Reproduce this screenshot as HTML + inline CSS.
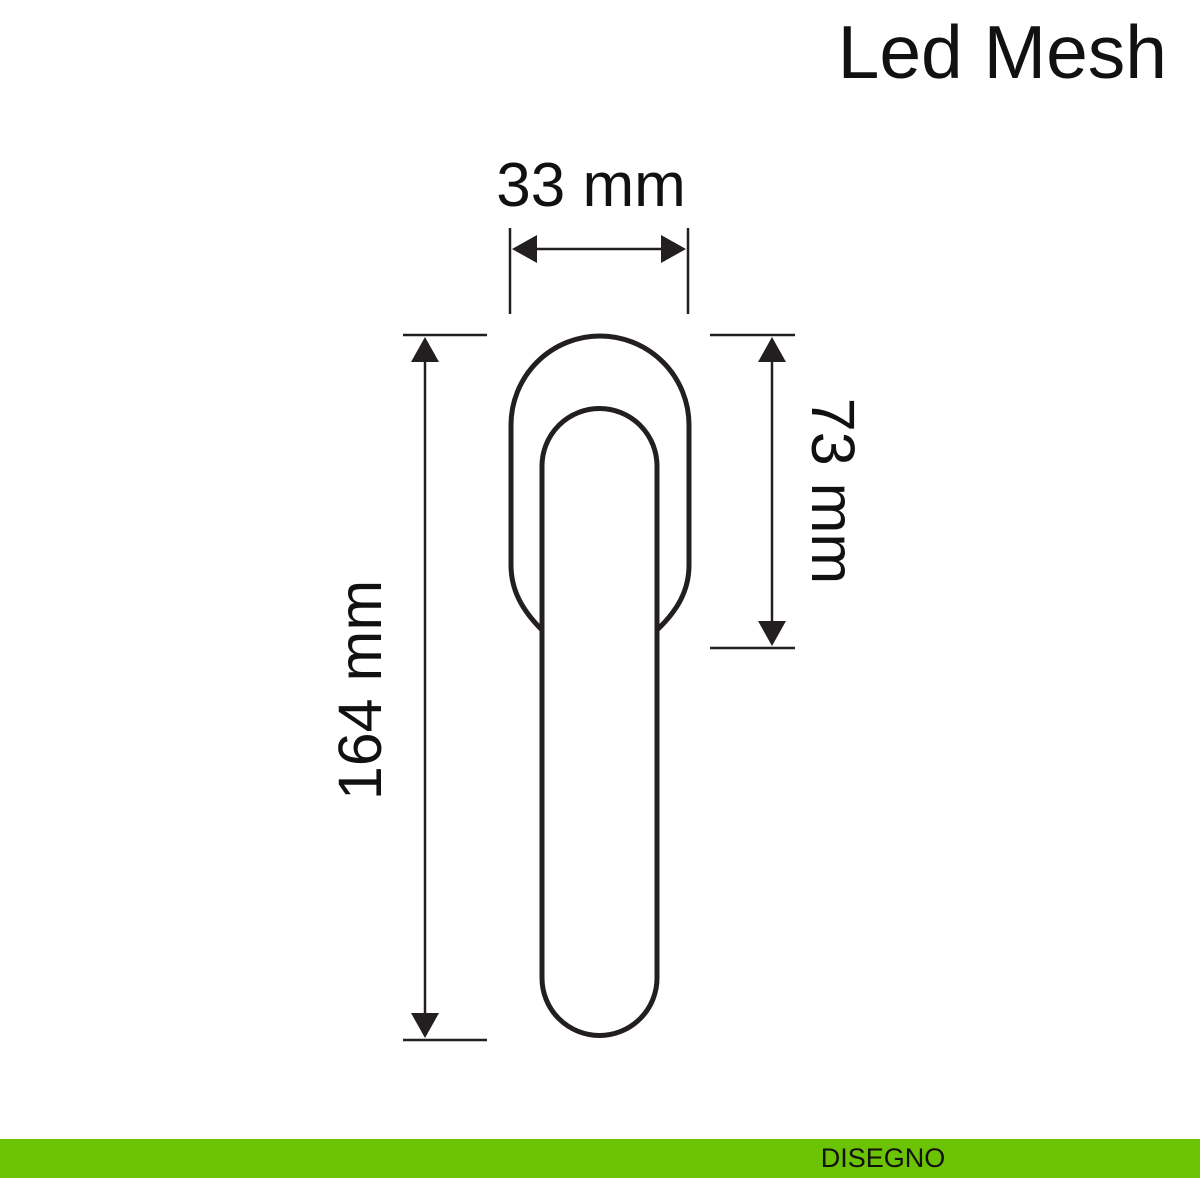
<!DOCTYPE html>
<html><head><style>
html,body{margin:0;padding:0;background:#fff;width:1200px;height:1200px;overflow:hidden}
</style></head><body>
<svg width="1200" height="1200" viewBox="0 0 1200 1200" xmlns="http://www.w3.org/2000/svg">
<rect width="1200" height="1200" fill="#fff"/>
<text x="1167" y="78" text-anchor="end" font-family="Liberation Sans, sans-serif" font-size="75" fill="#111">Led Mesh</text>
<rect x="0" y="1139" width="1200" height="39" fill="#6cc304"/>
<text x="883" y="1167" text-anchor="middle" font-family="Liberation Sans, sans-serif" font-size="27" fill="#111">DISEGNO</text>

<g fill="none" stroke="#231f20" stroke-width="5">
<path d="M542 630 C522 610 511 590 511 565 L511 425 A89 89 0 0 1 689 425 L689 565 C689 590 678 610 657 630"/>
<path d="M542 978 L542 466 A57.5 57.5 0 0 1 657 466 L657 978 A57.5 57.5 0 0 1 542 978 Z"/>
</g>

<g stroke="#231f20" stroke-width="2.5" fill="none">
<line x1="510" y1="228" x2="510" y2="314"/>
<line x1="688" y1="228" x2="688" y2="314"/>
<line x1="530" y1="249" x2="668" y2="249"/>
<line x1="403" y1="335" x2="487" y2="335"/>
<line x1="403" y1="1040" x2="487" y2="1040"/>
<line x1="425" y1="355" x2="425" y2="1020"/>
<line x1="710" y1="335" x2="795" y2="335"/>
<line x1="710" y1="648" x2="795" y2="648"/>
<line x1="772" y1="355" x2="772" y2="628"/>
</g>
<g fill="#231f20">
<polygon points="512,249 537,235 537,263"/>
<polygon points="686,249 661,235 661,263"/>
<polygon points="425,337 411,362 439,362"/>
<polygon points="425,1038 411,1013 439,1013"/>
<polygon points="772,337 758,362 786,362"/>
<polygon points="772,646 758,621 786,621"/>
</g>

<g font-family="Liberation Sans, sans-serif" fill="#111">
<text x="591" y="206" text-anchor="middle" font-size="62">33 mm</text>
<text transform="translate(381,690) rotate(-90)" text-anchor="middle" font-size="61">164 mm</text>
<text transform="translate(812,491) rotate(90)" text-anchor="middle" font-size="61">73 mm</text>
</g>
</svg>
</body></html>
